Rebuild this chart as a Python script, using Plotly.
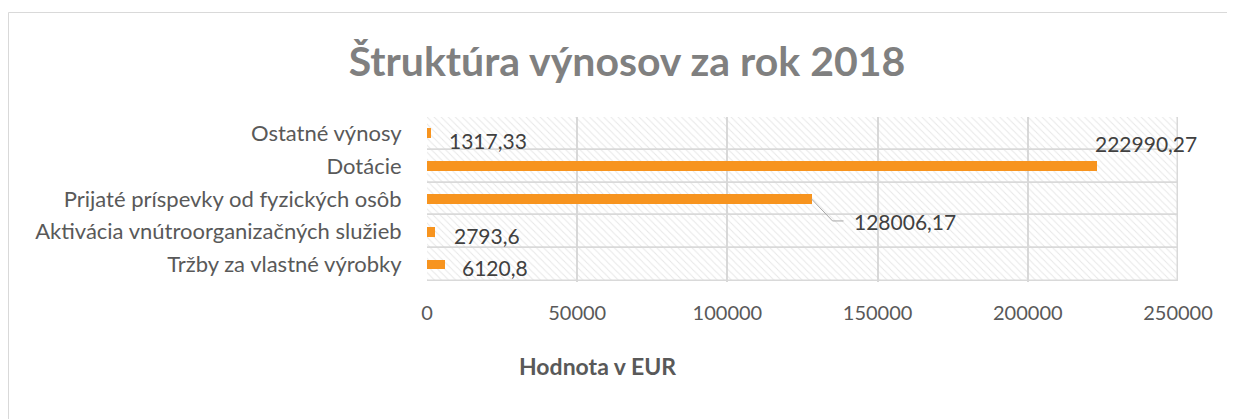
import plotly.graph_objects as go

categories = [
    "Tržby za vlastné výrobky",
    "Aktivácia vnútroorganizačných služieb",
    "Prijaté príspevky od fyzických osôb",
    "Dotácie",
    "Ostatné výnosy",
]
values = [6120.8, 2793.6, 128006.17, 222990.27, 1317.33]
x_ticks = [0, 50000, 100000, 150000, 200000, 250000]
x_max = 250000

title_text = "Štruktúra výnosov za rok 2018"
axis_title = "Hodnota v EUR"

FONT = "Lato"
GRID = "#d9d9d9"
ORANGE = "#F7941F"

# page body has an 8px margin; figure coordinates are page coordinates minus 8
OFF = 8
L, R, T, B = 427 - OFF, 1178 - OFF, 117 - OFF, 282 - OFF
W, H = 1235, 419
PW, PH = R - L, B - T

def fmt(v):
    s = ("%.2f" % v).rstrip("0").rstrip(".")
    return s.replace(".", ",")

fig = go.Figure()

# hatched background cells (one per category row)
fig.add_trace(go.Bar(
    y=categories, x=[x_max] * len(categories), orientation="h", width=1,
    marker=dict(color="rgba(0,0,0,0)",
                line=dict(color=GRID, width=1.5),
                pattern=dict(shape="\\", fgcolor="#d0d0d0", bgcolor="rgba(0,0,0,0)",
                             size=5, solidity=0.2, fillmode="overlay")),
    hoverinfo="skip", showlegend=False,
))

fig.add_trace(go.Bar(
    y=categories, x=values, orientation="h", width=0.3,
    marker=dict(color=ORANGE, line=dict(width=0)),
    showlegend=False,
))

# data labels: (xshift, yshift) in pixels
offsets = {
    "Tržby za vlastné výrobky": (15, -3),
    "Aktivácia vnútroorganizačných služieb": (17, -4),
    "Prijaté príspevky od fyzických osôb": (40, -23),
    "Dotácie": (-4, 23),
    "Ostatné výnosy": (16, -7),
}
for c, v in zip(categories, values):
    dx, dy = offsets[c]
    fig.add_annotation(x=v, y=c, xref="x", yref="y", text=fmt(v), showarrow=False,
                       xanchor="left", yanchor="middle", xshift=dx, yshift=dy,
                       font=dict(family=FONT, size=21, color="#404040"))

# leader line for the 128006,17 label
fig.add_shape(type="path", xref="x", yref="y", xsizemode="pixel", ysizemode="pixel",
              xanchor=values[2], yanchor=categories[2],
              path="M 0,0 L 21,-22 L 32,-22",
              line=dict(color="#a6a6a6", width=1))

# chart outer border
fig.add_shape(type="rect", xref="paper", yref="paper",
              x0=(0.5 - L) / PW, x1=(W + 20 - L) / PW,
              y0=-1.2, y1=(B - 4.5) / PH,
              line=dict(color=GRID, width=1), fillcolor="rgba(0,0,0,0)", layer="below")

fig.add_annotation(xref="paper", yref="paper", x=(597 - OFF - L) / PW, y=(B - (366 - OFF)) / PH,
                   text="<b>" + axis_title + "</b>", showarrow=False,
                   xanchor="center", yanchor="middle",
                   font=dict(family=FONT, size=23, color="#595959"))

fig.update_layout(
    width=W, height=H,
    margin=dict(l=L, r=W - R, t=T, b=H - B),
    paper_bgcolor="white", plot_bgcolor="white",
    barmode="overlay", bargap=0,
    title=dict(text="<b>" + title_text + "</b>", x=(627 - OFF) / W, xanchor="center",
               y=1 - (62 - OFF) / H, yanchor="middle",
               font=dict(family=FONT, size=41, color="#808080")),
    xaxis=dict(range=[0, x_max], tickvals=x_ticks, ticktext=[str(t) for t in x_ticks],
               showgrid=True, gridcolor=GRID, gridwidth=1.5, zeroline=False,
               showline=False, ticks="outside", ticklen=13, tickcolor="rgba(0,0,0,0)",
               tickfont=dict(family=FONT, size=20, color="#595959"), fixedrange=True),
    yaxis=dict(type="category", categoryorder="array", categoryarray=categories,
               showgrid=False, zeroline=False, showline=False,
               ticks="outside", ticklen=20, tickcolor="rgba(0,0,0,0)",
               tickfont=dict(family=FONT, size=22, color="#595959"), fixedrange=True),
)

fig.write_html("out.html")
